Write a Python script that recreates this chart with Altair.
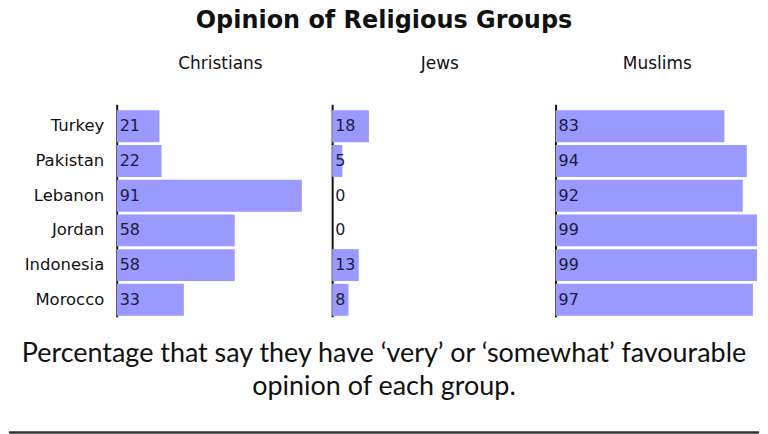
import altair as alt
import pandas as pd

countries = ["Turkey", "Pakistan", "Lebanon", "Jordan", "Indonesia", "Morocco"]
christians = [21, 22, 91, 58, 58, 33]
jews = [18, 5, 0, 0, 13, 8]
muslims = [83, 94, 92, 99, 99, 97]
chart_title = "Opinion of Religious Groups"
caption_lines = [
    "Percentage that say they have \u2018very\u2019 or \u2018somewhat\u2019 favourable",
    "opinion of each group.",
]

BAR = "#9999FF"
INK = "#1c1c3a"
PLOT_H = 213
AXIS_W = 108
TOTAL_W = 752


def panel(name, values, width, dmax, first):
    df = pd.DataFrame({"country": countries, "value": values})
    if first:
        yaxis = alt.Axis(title=None, ticks=False, tickSize=0, labelPadding=13,
                         labelFont="DejaVu Sans", labelFontSize=16.5, labelColor="#111",
                         domainColor="#111", domainWidth=2,
                         minExtent=AXIS_W, maxExtent=AXIS_W, labelAlign="right")
    else:
        yaxis = alt.Axis(title=None, ticks=False, tickSize=0, labels=False,
                         domainColor="#111", domainWidth=2, minExtent=0, maxExtent=0)
    y = alt.Y("country:N", sort=countries, axis=yaxis,
              scale=alt.Scale(paddingInner=0.08, paddingOuter=0.1, align=0.86))
    x = alt.X("value:Q", axis=None, scale=alt.Scale(domain=[0, dmax], nice=False))
    bars = alt.Chart(df).mark_bar(color=BAR, opacity=1).encode(x=x, y=y)
    labels = alt.Chart(df).mark_text(align="left", baseline="middle", dx=3,
                                     font="DejaVu Sans", fontSize=16, color=INK).encode(
        x=alt.value(0), y=y, text=alt.Text("value:Q"))
    return alt.layer(bars, labels).properties(
        width=width, height=PLOT_H,
        title=alt.TitleParams(name, font="DejaVu Sans", fontSize=17, fontWeight="normal",
                              color="#111", anchor="middle", offset=31),
    )


W1, W2 = 208, 216
W3 = TOTAL_W - AXIS_W - W1 - W2 - 16
panels = alt.hconcat(
    panel("Christians", christians, W1, W1 / 2.04, True),
    panel("Jews", jews, W2, W2 / 2.05, False),
    panel("Muslims", muslims, W3, 100, False),
    spacing=8,
)

cap_df = pd.DataFrame({"line": caption_lines, "idx": list(range(len(caption_lines)))})
CAP_W = TOTAL_W - AXIS_W
CAP_H = 117
cap_text = alt.Chart(cap_df).mark_text(align="center", baseline="alphabetic",
                                       font="Lato", fontSize=27, color="#111").encode(
    x=alt.value(376 - AXIS_W),
    y=alt.Y("idx:Q", axis=None, scale=alt.Scale(domain=[0, 1], range=[45, 78])),
    text="line:N",
)
cap_rule = alt.Chart(cap_df).mark_rule(color="#333", strokeWidth=2).encode(
    x=alt.value(-AXIS_W), x2=alt.value(CAP_W), y=alt.value(CAP_H - 1))
caption = alt.layer(cap_text, cap_rule).properties(width=CAP_W, height=CAP_H)

chart = alt.vconcat(panels, caption, spacing=0).properties(
    title=alt.TitleParams(chart_title, font="DejaVu Sans", fontSize=24, fontWeight="bold",
                          color="#111", anchor="middle", offset=23),
    padding={"left": 0, "top": 0, "right": 0, "bottom": 0},
    background="white",
).configure_view(strokeWidth=0)

chart.save("out.html", embed_options={"renderer": "svg", "actions": False})
